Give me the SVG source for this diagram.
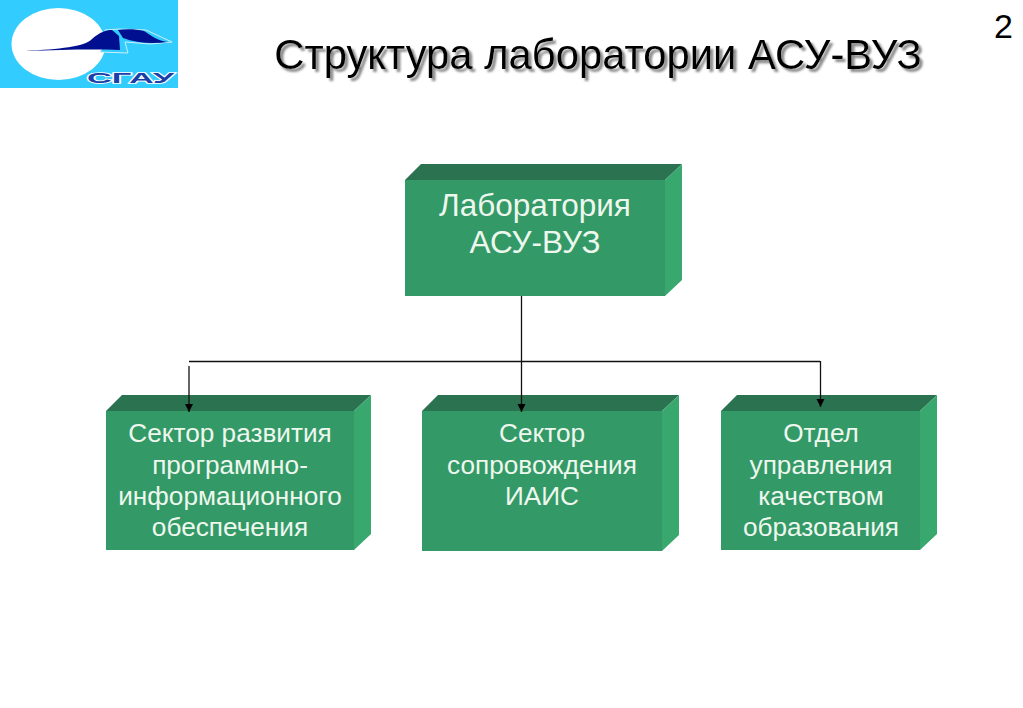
<svg xmlns="http://www.w3.org/2000/svg" width="1023" height="708" viewBox="0 0 1023 708">
<defs>
<marker id="arr" markerUnits="userSpaceOnUse" markerWidth="9" markerHeight="9" refX="8" refY="4" orient="auto"><path d="M0 0L8 4L0 8Z" fill="#000"/></marker>
<filter id="soft" x="-5%" y="-30%" width="110%" height="170%"><feDropShadow dx="3" dy="3" stdDeviation="1.200" flood-color="#888"/></filter>
</defs>
<style>
text{font-family:"Liberation Sans",Arial,sans-serif}
.t{font-size:26.200px;fill:#eef7ee;text-anchor:middle}
.big{font-size:31.500px}
.top{fill:#2b7350}.side{fill:#38a86f}.front{fill:#339966}
.title{font-size:41.800px}
.c{fill:none;stroke:#111;stroke-width:1.300}
</style>
<rect width="1023" height="708" fill="#fff"/>
<g id="logo">
<rect x="0" y="0" width="178" height="88" fill="#33ccff"/>
<ellipse cx="58.500" cy="44" rx="47" ry="36" fill="#fff"/>
<path d="M105 30L119 29L146 30L172 42L150 44L125 42L128 53L100 52L105 44Z" fill="#33ccff" stroke="#cdeffa" stroke-width="1"/>
<path d="M25 51C60 49 84 47 92 39C100 32 106 30 112 30L119 36L120 50C90 49 60 50 25 51Z" fill="#000f8f"/>
<path d="M118 30C126 29 136 29 144 31C150 35 158 41 168 42C152 44 136 43 123 38Z" fill="#000f8f"/>
<text x="87" y="83" font-size="15" font-weight="bold" textLength="87" lengthAdjust="spacingAndGlyphs" fill="#1a3fa8" stroke="#fff" stroke-width="1.600" paint-order="stroke">СГАУ</text>
</g>
<g id="title" filter="url(#soft)">
<text class="title" x="598" y="69" text-anchor="middle" fill="#000">Структура лаборатории АСУ-ВУЗ</text>
</g>
<text id="page-number" x="994" y="38" font-size="34" fill="#000">2</text>
<g id="node-lab">
<path class="top" d="M405 180L421 164H682L665 180Z"/>
<path class="side" d="M665 180L682 164V280L665 296Z"/>
<rect class="front" x="405" y="180" width="260" height="116"/>
<text class="t big" x="535" y="216">Лаборатория</text>
<text class="t big" x="535" y="253">АСУ-ВУЗ</text>
</g>
<g id="node-sector1">
<path class="top" d="M106 411L122 395H371L354 411Z"/>
<path class="side" d="M354 411L371 395V534L354 550Z"/>
<rect class="front" x="106" y="411" width="248" height="139"/>
<text class="t" x="230" y="442">Сектор развития</text>
<text class="t" x="230" y="474">программно-</text>
<text class="t" x="230" y="505">информационного</text>
<text class="t" x="230" y="536">обеспечения</text>
</g>
<g id="node-sector2">
<path class="top" d="M422 411L438 395H679L662 411Z"/>
<path class="side" d="M662 411L679 395V535L662 551Z"/>
<rect class="front" x="422" y="411" width="240" height="140"/>
<text class="t" x="542" y="442">Сектор</text>
<text class="t" x="542" y="474">сопровождения</text>
<text class="t" x="542" y="505">ИАИС</text>
</g>
<g id="node-dept">
<path class="top" d="M721 411L737 395H937L920 411Z"/>
<path class="side" d="M920 411L937 395V534L920 550Z"/>
<rect class="front" x="721" y="411" width="199" height="139"/>
<text class="t" x="821" y="442">Отдел</text>
<text class="t" x="821" y="474">управления</text>
<text class="t" x="821" y="505">качеством</text>
<text class="t" x="821" y="536">образования</text>
</g>
<g id="connectors">
<path class="c" d="M521.500 296V361"/>
<path class="c" d="M189 361.500H820"/>
<path class="c" d="M189 366V412" marker-end="url(#arr)"/>
<path class="c" d="M521.500 361V412" marker-end="url(#arr)"/>
<path class="c" d="M820.500 361V407" marker-end="url(#arr)"/>
</g>
</svg>
